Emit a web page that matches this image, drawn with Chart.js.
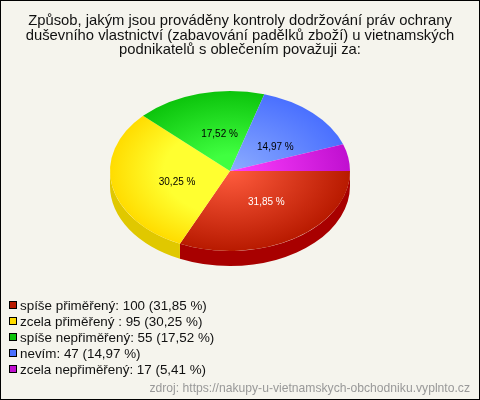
<!DOCTYPE html>
<html>
<head>
<meta charset="utf-8">
<script src="https://cdn.jsdelivr.net/npm/chart.js@4/dist/chart.umd.min.js"></script>
<style>
    html, body { margin: 0; padding: 0; background: #f5f4ed; }
    #box { position: relative; width: 480px; height: 400px; overflow: hidden; font-family: "Liberation Sans", Arial, sans-serif; }
    #box canvas { position: absolute; left: 0; top: 0; }
    #frame { position: absolute; left: 0; top: 0; width: 478px; height: 398px; border: 1px solid #000; pointer-events: none; }
    #legend { position: absolute; left: 9px; top: 298px; font-size: 13.4px; color: #111; }
    #legend div { height: 16px; line-height: 16px; white-space: nowrap; }
    #legend i { display: inline-block; width: 6px; height: 6px; border: 1px solid #000; margin-right: 3px; vertical-align: 1px; }
    #source { position: absolute; right: 10px; top: 381px; font-size: 12.15px; color: #999; white-space: nowrap; }
</style>
</head>
<body>
<div id="box">
    <canvas id="chart" width="480" height="400"></canvas>
    <div id="legend"></div>
    <div id="source">zdroj: https://nakupy-u-vietnamskych-obchodniku.vyplnto.cz</div>
    <div id="frame"></div>
</div>
<script>
const titleLines = [
    'Způsob, jakým jsou prováděny kontroly dodržování práv ochrany',
    'duševního vlastnictví (zabavování padělků zboží) u vietnamských',
    'podnikatelů s oblečením považuji za:'
];
const categories = ['spíše přiměřený', 'zcela přiměřený ', 'spíše nepřiměřený', 'nevím', 'zcela nepřiměřený'];
const values = [100, 95, 55, 47, 17];
const percents = ['31,85', '30,25', '17,52', '14,97', '5,41'];

const innerColors = ['#ff5c3e', '#ffff30', '#40ff40', '#8cacff', '#ff40ff'];
const outerColors = ['#b81a00', '#ffdc00', '#0cc40c', '#4a70ff', '#c010d0'];
const innerHold = [0, 0.55, 0.2, 0, 0];
const sideColors = ['#a80000', '#e0c800', '#0a9a0a', '#3050c0', '#9000a0'];
const labelColors = ['#fff', '#000', '#000', '#000'];
const labelNudge = [[4, -2], [6, 4], [5, 2], [4, 5]];

// the pie is a flat circle squashed into an ellipse
const radius = 120;
const squash = 2 / 3;
const pieX = 230;
const pieY = 171;
const depth = 15;

function tilt(ctx, arc) {
    ctx.translate(pieX, pieY);
    ctx.scale(1, squash);
    ctx.translate(-arc.x, -arc.y);
}

const tiltPlugin = {
    id: 'tilt',
    beforeDatasetsDraw(chart) {
        const ctx = chart.ctx;
        const arcs = chart.getDatasetMeta(0).data;
        ctx.save();
        tilt(ctx, arcs[0]);
        // side wall, only the front half of the rim shows
        arcs.forEach((arc, i) => {
            const a = Math.max(arc.startAngle, 0);
            const b = Math.min(arc.endAngle, Math.PI);
            if (b <= a) return;
            ctx.beginPath();
            ctx.arc(arc.x, arc.y + depth / squash, arc.outerRadius, a, b);
            ctx.arc(arc.x, arc.y, arc.outerRadius, b, a, true);
            ctx.closePath();
            ctx.fillStyle = sideColors[i];
            ctx.fill();
        });
    },
    afterDatasetsDraw(chart) {
        const ctx = chart.ctx;
        ctx.restore();
        const arcs = chart.getDatasetMeta(0).data;
        ctx.save();
        ctx.font = '10px "Liberation Sans", Arial, sans-serif';
        ctx.textAlign = 'center';
        ctx.textBaseline = 'middle';
        labelColors.forEach((color, i) => {
            const arc = arcs[i];
            const mid = (arc.startAngle + arc.endAngle) / 2;
            const r = arc.outerRadius / 2;
            ctx.fillStyle = color;
            ctx.fillText(percents[i] + ' %',
                pieX + r * Math.cos(mid) + labelNudge[i][0],
                pieY + r * Math.sin(mid) * squash + labelNudge[i][1]);
        });
        ctx.restore();
    }
};

function sliceFill(context) {
    const chart = context.chart;
    const area = chart.chartArea;
    if (!area) return outerColors[context.dataIndex];
    const x = (area.left + area.right) / 2;
    const y = (area.top + area.bottom) / 2;
    const g = chart.ctx.createRadialGradient(x, y, 0, x, y, radius);
    g.addColorStop(0, innerColors[context.dataIndex]);
    g.addColorStop(innerHold[context.dataIndex], innerColors[context.dataIndex]);
    g.addColorStop(1, outerColors[context.dataIndex]);
    return g;
}

new Chart(document.getElementById('chart'), {
    type: 'pie',
    data: {
        labels: categories,
        datasets: [{
            data: values,
            backgroundColor: sliceFill,
            borderWidth: 0,
            radius: radius
        }]
    },
    options: {
        responsive: false,
        animation: false,
        rotation: 90,
        plugins: {
            legend: { display: false },
            tooltip: { enabled: false },
            title: {
                display: true,
                text: titleLines,
                color: '#111',
                font: { family: '"Liberation Sans", Arial, sans-serif', size: 14.8, weight: 'normal', lineHeight: 1.01 },
                padding: { top: 13, bottom: 4 }
            }
        }
    },
    plugins: [tiltPlugin]
});

document.getElementById('legend').innerHTML = categories.map((name, i) =>
    `<div><i style="background:${outerColors[i]}"></i>${name}: ${values[i]} (${percents[i]} %)</div>`
).join('');
</script>
</body>
</html>
